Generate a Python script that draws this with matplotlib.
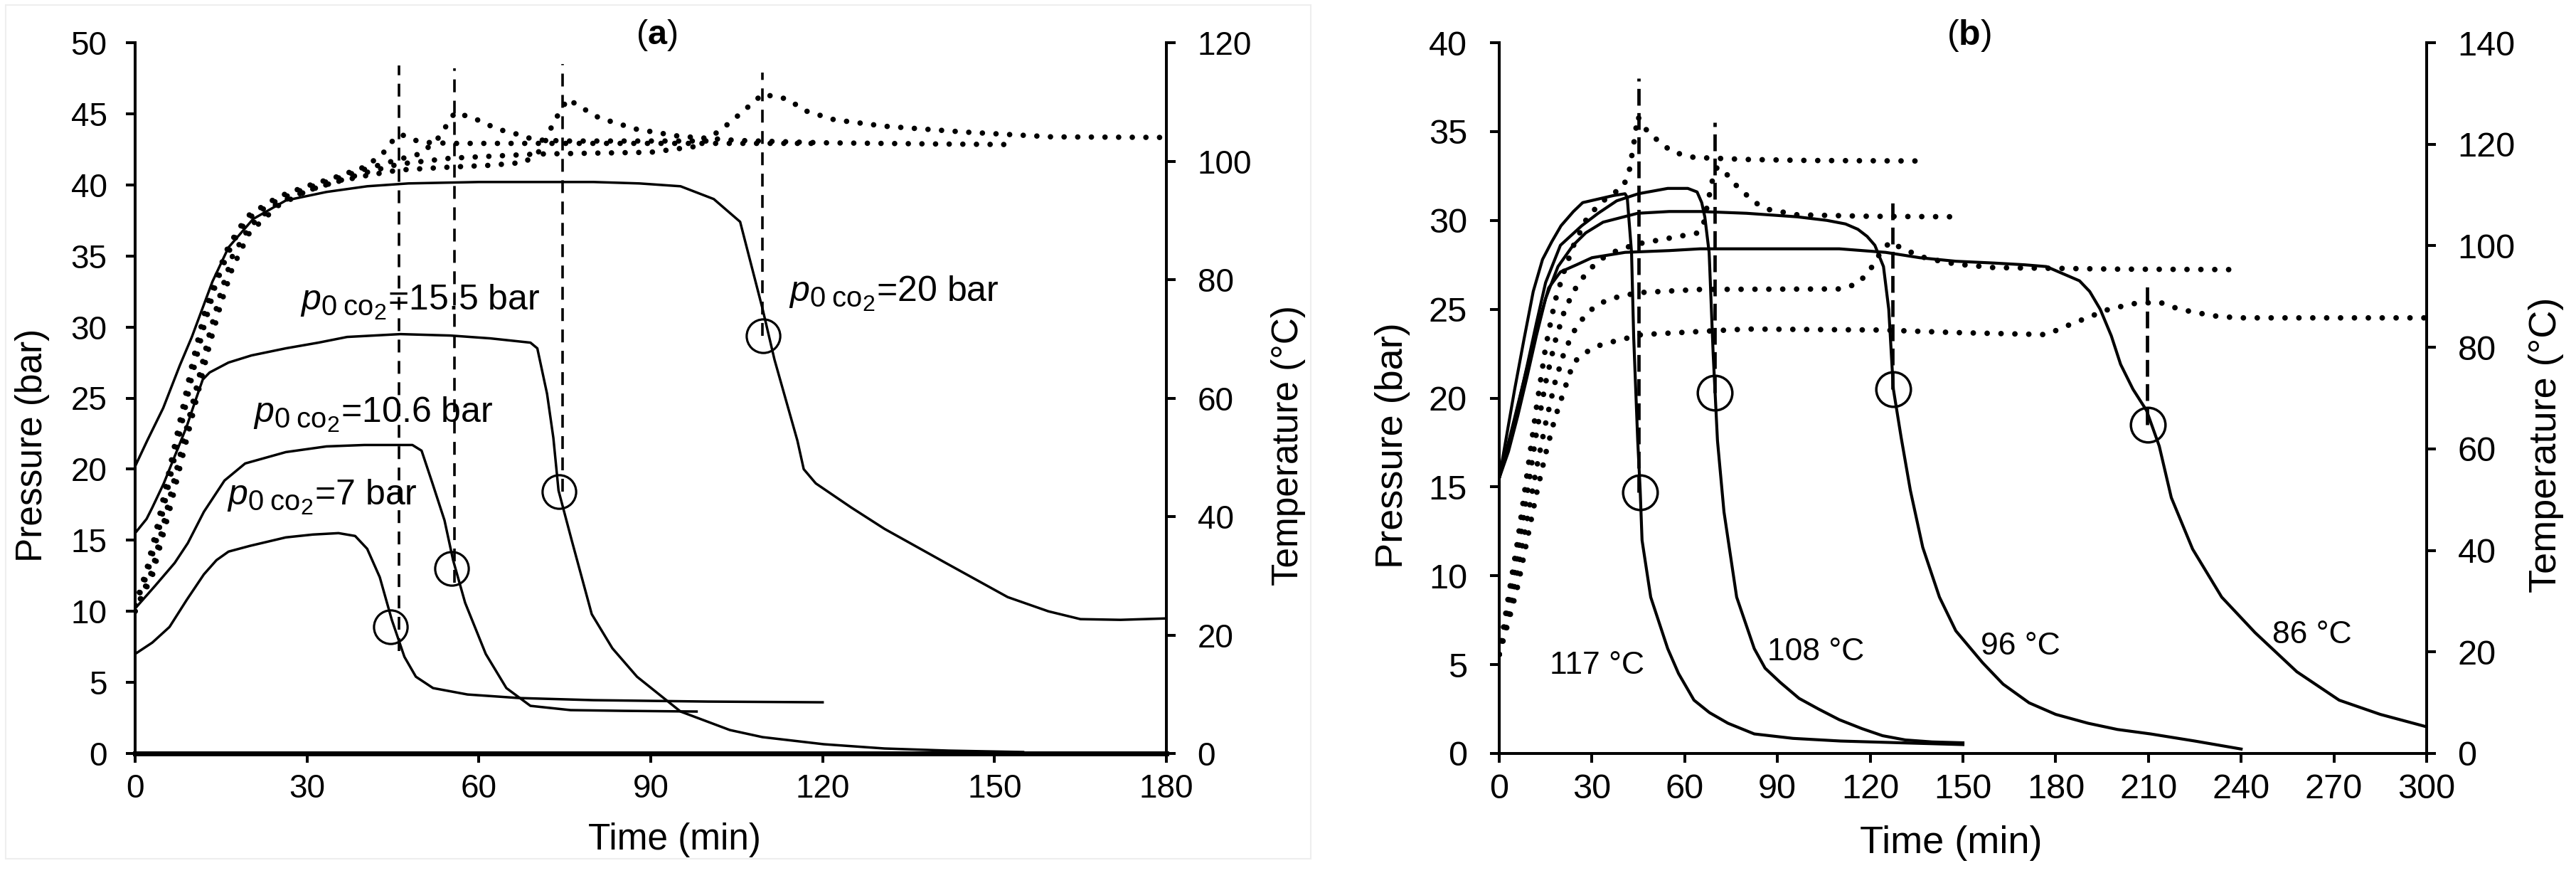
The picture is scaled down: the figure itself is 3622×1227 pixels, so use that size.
import numpy as np
import matplotlib.pyplot as plt
import matplotlib._mathtext as mathtext_internal
from matplotlib.patches import Rectangle

plt.rcParams['font.family'] = ['Liberation Sans', 'DejaVu Sans']
plt.rcParams['mathtext.fontset'] = 'custom'
plt.rcParams['mathtext.rm'] = 'Liberation Sans'
plt.rcParams['mathtext.it'] = 'Liberation Sans:italic'
plt.rcParams['mathtext.bf'] = 'Liberation Sans:bold'
# subscripts in the source labels are drawn fairly large
mathtext_internal.SHRINK_FACTOR = 0.8

# ---------------- panel (a): initial CO2 pressure series ----------------
t_a7 = [0, 3, 6, 9, 12, 14.2, 16.3, 20, 26.3, 31, 35.5, 38.4, 40.5, 42.7, 44.8, 47, 49, 52, 58, 67, 80, 100, 120]
p_a7 = [7.0, 7.8, 8.9, 10.8, 12.6, 13.6, 14.2, 14.6, 15.2, 15.4, 15.5, 15.3, 14.4, 12.4, 9.4, 6.8, 5.4, 4.6, 4.15, 3.9, 3.75, 3.65, 3.6]

t_a106 = [0, 3.5, 6.9, 9.2, 12, 15.6, 19.2, 26.3, 33.4, 40, 48.4, 50, 51.9, 54, 55.5, 57.6, 61.2, 64.8, 69, 76, 85, 98]
p_a106 = [10.2, 11.8, 13.4, 14.8, 17, 19.2, 20.4, 21.2, 21.6, 21.7, 21.7, 21.3, 19, 16.4, 13.6, 10.6, 7, 4.6, 3.35, 3.05, 3.0, 2.95]

t_a155 = [0, 1, 2, 3, 5, 7, 9, 10.5, 11.8, 13, 16.3, 20.3, 26.3, 32, 37, 46.3, 55, 62, 69, 70.2, 71.9, 73, 73.9, 76.2, 79.7,
          83.3, 87.6, 95.2, 103.8, 109.5, 120.2, 130.8, 142, 155]
p_a155 = [15.5, 16, 16.5, 17.3, 19, 21, 23, 24.8, 26.3, 26.8, 27.5, 28, 28.5, 28.9, 29.3, 29.5, 29.4, 29.2, 28.9, 28.5, 25.3,
          22.2, 18.5, 15, 9.8, 7.4, 5.4, 2.95, 1.65, 1.15, 0.65, 0.35, 0.2, 0.1]

t_a20 = [0, 2.1, 4.9, 7.8, 9.9, 13.5, 16.3, 20.6, 26.3, 33.4, 40.5, 47.7, 60, 80, 88, 95.2, 101, 105.6, 109.5, 111.6, 115.6,
         116.7, 118.8, 125, 130.8, 141.5, 152.3, 159.4, 165, 172, 180]
p_a20 = [20.2, 22, 24.3, 27.3, 29.3, 33.2, 35.6, 37.6, 38.9, 39.5, 39.9, 40.1, 40.2, 40.2, 40.1, 39.9, 39, 37.4, 31.3, 27.7, 22,
         20, 19, 17.3, 15.8, 13.4, 11, 10, 9.45, 9.4, 9.5]

# temperatures (right axis)
tT_a7 = [0, 2, 4, 6, 8, 10, 12, 14, 16, 18, 20, 25, 30, 35, 40, 43, 45, 46.5, 48, 50, 55, 60, 80, 100, 120]
T_a7 = [25, 31, 39, 48, 57, 66, 74, 80, 85, 88.5, 91, 94, 95.8, 97.3, 99, 101, 103.5, 104.5, 103.8, 103.2, 103, 103, 103, 103, 103]

tT_a106 = [0, 2, 4, 6, 8, 10, 12, 14, 16, 18, 20, 25, 30, 35, 40, 46, 50, 53, 55.8, 59, 63.3, 66.9, 69.7, 75, 85, 100]
T_a106 = [25, 30, 37, 46, 55, 64, 72, 79, 84, 88, 90.5, 93.5, 95.5, 97, 98.6, 100.3, 101.3, 104, 108.2, 107.3, 105.4, 104.5,
          103.6, 103.4, 103.4, 103.4]

tT_a155 = [0, 3, 6, 9, 11, 13, 15, 17, 20, 25, 30, 35, 40, 46, 55, 62, 68, 71, 73, 75.5, 78, 81, 87.5, 95, 105, 120, 140, 153]
T_a155 = [24, 31, 43, 55, 63, 71, 78, 84, 89, 93, 95, 96.5, 97.5, 98.5, 99, 99.3, 99.8, 102, 106.5, 110.5, 109, 107.3, 105.4,
          104.2, 103.5, 103.1, 102.9, 102.8]

tT_a20 = [0, 3, 6, 9, 11, 13, 15, 17, 20, 25, 30, 35, 40, 46, 55, 70, 90, 98, 102.4, 105, 108, 109.5, 113.8, 117, 122, 130.8,
          145, 160, 180]
T_a20 = [24, 30, 41, 53, 61, 69, 76, 82, 88, 92.5, 95, 96.5, 98, 99.5, 100.5, 101.2, 101.5, 102.5, 105.4, 107.5, 110, 111.3,
         110.5, 108.5, 107, 105.9, 104.9, 104.1, 104]

# onset markers
circ_t_a = [44.6, 55.3, 74.0, 109.6]
circ_p_a = [8.9, 13.0, 18.4, 29.4]
vline_t_a = [46, 55.8, 74.6, 109.5]
vline_lo_a = [7.2, 12.0, 18.4, 29.4]
vline_hi_a = [48.4, 48.2, 48.5, 47.9]

labels_a = ['=7 bar', '=10.6 bar', '=15.5 bar', '=20 bar']
lab_t_a = [16, 20.6, 28.8, 114.1]
lab_p_a = [17.5, 23.3, 31.2, 31.8]

# ---------------- panel (b): reaction temperature series ----------------
t_b117 = [0, 2, 5, 8, 11, 14, 17, 20, 24, 27, 32, 37, 40.7, 41.4, 42.8, 43.5, 44.8, 45.6, 46.2, 49, 54.5, 58, 63, 68, 74,
          82.5, 95, 110.4, 130, 150]
p_b117 = [15.5, 17.5, 20.5, 23.3, 26, 27.8, 28.8, 29.7, 30.5, 31.0, 31.2, 31.4, 31.5, 31.3, 28.2, 23.4, 17.6, 14.8, 12, 8.8,
          5.9, 4.5, 3.0, 2.3, 1.7, 1.1, 0.85, 0.7, 0.6, 0.5]

t_b108 = [0, 3, 6, 9, 12, 15, 19.8, 26.7, 32, 38, 45, 54.5, 61, 64, 65.5, 66.5, 67.9, 69.2, 70.6, 72.7, 76.8, 82.5, 86, 90.9,
          97, 103.3, 110, 117.3, 124, 131.4, 140, 150]
p_b108 = [15.5, 17.3, 19.5, 21.8, 24.2, 26.5, 28.6, 29.7, 30.4, 31.1, 31.5, 31.8, 31.8, 31.6, 31.0, 30.2, 28.2, 22.5, 17.6,
          13.6, 8.8, 5.9, 4.8, 4.0, 3.1, 2.5, 1.9, 1.4, 1.0, 0.76, 0.65, 0.6]

t_b96 = [0, 3, 6, 9, 12, 15, 19, 23.9, 28, 33.6, 44.8, 55, 65, 80, 96.4, 106, 112, 116, 119, 121.5, 124.3, 126, 127.5, 130,
         133, 137, 142.4, 147.7, 156.4, 163, 171.4, 180, 190.5, 200, 210.7, 225, 240]
p_b96 = [15.5, 17.0, 19.0, 21.2, 23.5, 25.6, 27.4, 28.6, 29.3, 29.9, 30.4, 30.5, 30.5, 30.4, 30.2, 30.0, 29.8, 29.5, 29.1,
         28.6, 27.4, 25.0, 20.5, 17.8, 14.8, 11.6, 8.8, 6.9, 5.1, 3.9, 2.85, 2.2, 1.7, 1.35, 1.1, 0.7, 0.25]

t_b86 = [0, 4, 8, 12, 16, 19.8, 25, 30, 40.7, 55, 65, 90, 110, 125, 136, 147.7, 160, 170, 177, 181, 187.7, 191, 194.4, 198,
         201, 205, 209.4, 213.5, 217.4, 224.3, 233.7, 244.5, 258, 271.7, 285, 300]
p_b86 = [15.5, 18.2, 21, 23.8, 26.2, 27.1, 27.5, 27.9, 28.2, 28.3, 28.4, 28.4, 28.4, 28.2, 27.9, 27.7, 27.6, 27.5, 27.4,
         27.1, 26.6, 26, 25, 23.5, 21.9, 20.5, 19.3, 17.3, 14.4, 11.5, 8.8, 6.8, 4.6, 3.0, 2.2, 1.5]

tT_b117 = [0, 3, 6, 9, 12, 15, 18, 21, 24, 28, 32, 36, 40, 42, 43.5, 44.8, 46, 48, 50.4, 55.9, 63, 80, 100, 135.5]
T_b117 = [19.5, 31, 42, 55, 68, 80, 89, 95, 100, 105, 108, 110, 111.5, 114.5, 120, 125.5, 124.2, 122.5, 121.2, 118.5, 117.4,
          117, 116.8, 116.7]

tT_b108 = [0, 3, 6, 9, 12, 15, 18, 21, 24, 28, 32, 36, 40, 46, 55, 64, 66, 67.5, 69, 70.5, 73, 76.8, 82.5, 86.7, 96.4, 120, 150]
T_b108 = [19.5, 29, 39, 51, 63, 73, 81, 87, 91, 94.5, 97, 98.5, 99.5, 100.5, 101.5, 102.5, 104, 108.6, 113, 115.5, 114.5,
          111.8, 108.6, 107.2, 106.1, 105.8, 105.7]

tT_b96 = [0, 3, 6, 9, 12, 15, 18, 21, 24, 28, 32, 36, 40, 46, 65, 110, 116, 120, 124.3, 127, 130, 138.3, 147.7, 160, 200, 240]
T_b96 = [19.5, 27, 36, 46, 56, 65, 73, 79, 83, 86.5, 88.5, 89.5, 90.2, 90.8, 91.4, 91.5, 92.5, 95.3, 99.6, 100.8, 99.5, 97.5,
         96.4, 95.7, 95.4, 95.3]

tT_b86 = [0, 3, 6, 9, 12, 15, 18, 21, 24, 28, 32, 36, 40, 46, 80, 124, 147.7, 177, 183.5, 190.5, 197.2, 205.3, 213.5, 220,
          231, 239, 260, 300]
T_b86 = [19.5, 26, 33, 42, 51, 59, 66, 71.5, 77, 79, 80.3, 81, 81.6, 82.5, 83.6, 83.4, 82.9, 82.5, 84.2, 85.9, 87.5, 88.6,
         88.9, 87.5, 86.2, 85.8, 85.8, 85.8]

circ_t_b = [45.6, 69.7, 127.4, 209.8]
circ_p_b = [14.7, 20.3, 20.5, 18.5]
vline_t_b = [45.2, 69.8, 127.3, 209.6]
vline_hi_b = [38.0, 35.5, 31.0, 26.5]

labels_b = ['117 °C', '108 °C', '96 °C', '86 °C']
lab_t_b = [16.3, 86.7, 155.8, 250]
lab_p_b = [4.5, 5.25, 5.57, 6.2]

# ---------------- figure ----------------
W, H = 3623, 1227
fig = plt.figure(figsize=(W / 100, H / 100), dpi=100)

# faint frame around panel (a) as in the source image
fig.add_artist(Rectangle((8 / W, 1 - 1207 / H), 1835 / W, 1200 / H, transform=fig.transFigure,
                         fill=False, edgecolor='#eeeeee', lw=1.5))


def setup(ax, ax2, xmax, xstep, ymax, ystep, tmax, tstep, fs, lw_sp, lw_bot, padl, padr):
    ax.set_xlim(0, xmax)
    ax.set_ylim(0, ymax)
    ax2.set_ylim(0, tmax)
    ax.set_xticks(np.arange(0, xmax + 1, xstep))
    ax.set_yticks(np.arange(0, ymax + 1, ystep))
    ax2.set_yticks(np.arange(0, tmax + 1, tstep))
    for s in ['top', 'right']:
        ax.spines[s].set_visible(False)
    for s in ['top', 'left', 'bottom']:
        ax2.spines[s].set_visible(False)
    ax.spines['left'].set_linewidth(lw_sp)
    ax.spines['bottom'].set_linewidth(lw_bot)
    ax2.spines['right'].set_linewidth(lw_sp)
    ax.tick_params(axis='x', direction='out', length=9.4, width=lw_sp, labelsize=fs, pad=11)
    ax.tick_params(axis='y', direction='out', length=9.4, width=lw_sp, labelsize=fs, pad=padl)
    ax2.tick_params(axis='y', direction='out', length=9.4, width=lw_sp, labelsize=fs, pad=padr)
    ax.patch.set_visible(False)


dot = dict(color='k', lw=5.5, ls=(0, (0.01, 2.5)), dash_capstyle='round')
circ = dict(marker='o', ls='none', mfc='none', mec='k')

# ----- panel (a)
axa = fig.add_axes([190 / W, 1 - 1059 / H, 1450 / W, 999 / H])
axa2 = axa.twinx()
setup(axa, axa2, 180, 30, 50, 5, 120, 20, 33, 2.9, 5.0, 19, 22)

for tt, pp in [(t_a7, p_a7), (t_a106, p_a106), (t_a155, p_a155), (t_a20, p_a20)]:
    axa.plot(tt, pp, color='k', lw=2.5)
for tt, TT in [(tT_a7, T_a7), (tT_a106, T_a106), (tT_a155, T_a155), (tT_a20, T_a20)]:
    axa2.plot(tt, TT, **dot)
axa.vlines(vline_t_a, vline_lo_a, vline_hi_a, colors='k', lw=2.6, linestyles=(0, (5.0, 3.3)))
axa.plot(circ_t_a, circ_p_a, ms=34, mew=2.3, **circ)
for txt, tx, py in zip(labels_a, lab_t_a, lab_p_a):
    axa.text(tx, py, r'$p_{\mathit{0}\;\mathrm{co}_{2}}$' + txt, fontsize=36, ha='left', va='baseline')

fig.text(0.0125, 0.49, 'Pressure (bar)', rotation=90, ha='center', va='center', fontsize=37)
fig.text(0.5, 0.49, 'Temperature (°C)', rotation=90, ha='center', va='center', fontsize=37)
axa.set_xlabel('Time (min)', fontsize=37)
axa.xaxis.set_label_coords(0.523, -0.097)
fig.text(923 / W, 1 - 50 / H, r'($\mathbf{a}$)', ha='center', va='center', fontsize=35)

# ----- panel (b)
axb = fig.add_axes([2108 / W, 1 - 1059 / H, 1304 / W, 999 / H])
axb2 = axb.twinx()
setup(axb, axb2, 300, 30, 40, 5, 140, 20, 35, 2.9, 2.9, 23, 22)

for tt, pp in [(t_b117, p_b117), (t_b108, p_b108), (t_b96, p_b96), (t_b86, p_b86)]:
    axb.plot(tt, pp, color='k', lw=3.0)
dot_b = dict(dot, lw=5.6, ls=(0, (0.01, 2.5)))
for tt, TT in [(tT_b117, T_b117), (tT_b108, T_b108), (tT_b96, T_b96), (tT_b86, T_b86)]:
    axb2.plot(tt, TT, **dot_b)
axb.vlines(vline_t_b, circ_p_b, vline_hi_b, colors='k', lw=3.4, linestyles=(0, (5.0, 2.2)))
axb.plot(circ_t_b, circ_p_b, ms=35, mew=2.5, **circ)
for txt, tx, py in zip(labels_b, lab_t_b, lab_p_b):
    axb.text(tx, py, txt, fontsize=32, ha='left', va='baseline')

fig.text(1958 / W, 0.49, 'Pressure (bar)', rotation=90, ha='center', va='center', fontsize=39)
fig.text(3580 / W, 0.49, 'Temperature (°C)', rotation=90, ha='center', va='center', fontsize=39)
axb.set_xlabel('Time (min)', fontsize=39)
axb.xaxis.set_label_coords(0.487, -0.101)
fig.text(2768 / W, 1 - 50 / H, r'($\mathbf{b}$)', ha='center', va='center', fontsize=36)

fig.savefig('out.png', dpi=100)
